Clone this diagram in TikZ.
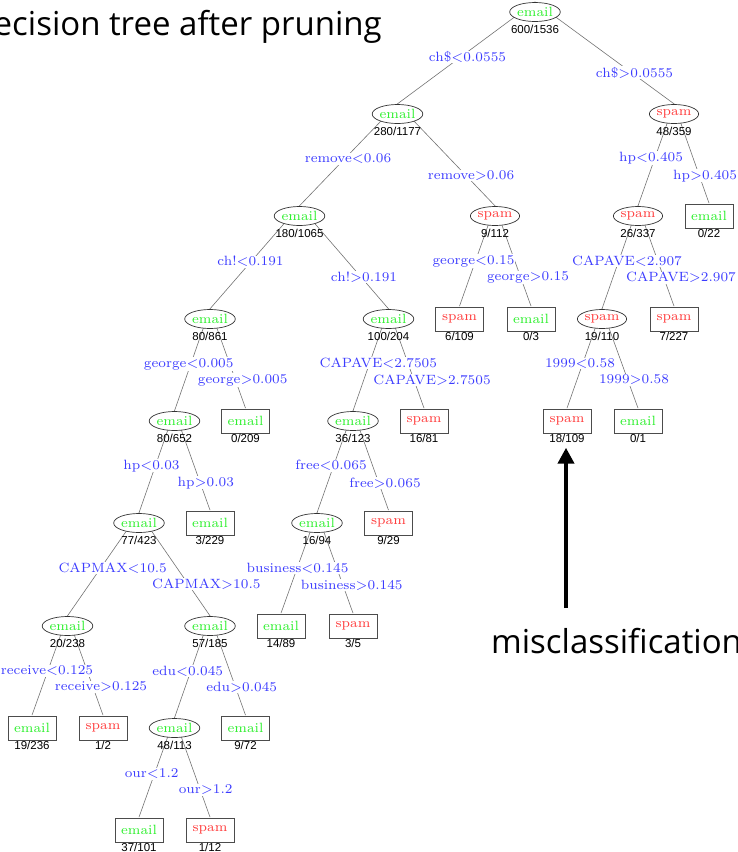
\documentclass[tikz,border=0pt]{standalone}
\usepackage{fontspec}
\newfontfamily\titlefont{Open Sans}
\newfontfamily\countfont{Liberation Sans}
\usetikzlibrary{positioning}
\usetikzlibrary{shapes.geometric}
\usetikzlibrary{arrows.meta}
\definecolor{splitblue}{RGB}{60,60,255}
\definecolor{mailgreen}{RGB}{45,240,45}
\definecolor{junkred}{RGB}{255,60,60}
\pgfdeclarelayer{bg}
\pgfsetlayers{bg,main}
\tikzset{cls/.style={font=\fontsize{7}{8}\selectfont, scale=1.92, inner sep=0pt, fill=white}}
\tikzset{inode/.style={cls, ellipse, draw=black!80, line width=0.7pt, minimum width=25pt, minimum height=9.9pt}}
\tikzset{leaf/.style={cls, rectangle, draw=black!70, line width=0.9pt, minimum width=25pt, minimum height=12.5pt}}
\tikzset{mail/.style={text=mailgreen}}
\tikzset{junk/.style={text=junkred}}
\tikzset{cnt/.style={font=\countfont\fontsize{11.5}{12}\selectfont, inner sep=0pt}}
\tikzset{cond/.style={font=\fontsize{7}{8}\selectfont, scale=1.92, text=splitblue, fill=white, inner sep=0.4pt}}
\tikzset{ed/.style={draw=black!55, line width=0.6pt}}
\tikzset{big/.style={font=\titlefont\fontsize{33}{37}\selectfont, inner sep=0pt}}
\tikzset{miss/.style={-{Triangle[width=16pt,length=16pt]}, line width=4pt}}

\begin{document}
\begin{tikzpicture}[x=1pt,y=-1pt]
\useasboundingbox (0,0) rectangle (738,852);

% tree nodes, level by level
\node[inode, mail] (n1) at (535,12) {email};
\node[inode, mail] (n2) at (397.5,114) {email};
\node[inode, junk] (n3) at (674,114) {spam};
\node[inode, mail] (n4) at (299.5,216) {email};
\node[inode, junk] (n5) at (495,216) {spam};
\node[inode, junk] (n6) at (638,216) {spam};
\node[leaf, mail] (n7) at (709,216) {email};
\node[inode, mail] (n8) at (210,319) {email};
\node[inode, mail] (n9) at (388.5,319) {email};
\node[leaf, junk] (n10) at (459.5,319) {spam};
\node[leaf, mail] (n11) at (531,319) {email};
\node[inode, junk] (n12) at (602,319) {spam};
\node[leaf, junk] (n13) at (674,319) {spam};
\node[inode, mail] (n14) at (174.5,421) {email};
\node[leaf, mail] (n15) at (245.5,421) {email};
\node[inode, mail] (n16) at (353,421) {email};
\node[leaf, junk] (n17) at (424,421) {spam};
\node[leaf, junk] (n18) at (567,421) {spam};
\node[leaf, mail] (n19) at (638,421) {email};
\node[inode, mail] (n20) at (139,523) {email};
\node[leaf, mail] (n21) at (210,523) {email};
\node[inode, mail] (n22) at (317,523) {email};
\node[leaf, junk] (n23) at (388.5,523) {spam};
\node[inode, mail] (n24) at (67.5,626) {email};
\node[inode, mail] (n25) at (210,626) {email};
\node[leaf, mail] (n26) at (281,626) {email};
\node[leaf, junk] (n27) at (353,626) {spam};
\node[leaf, mail] (n28) at (32,728) {email};
\node[leaf, junk] (n29) at (103,728) {spam};
\node[inode, mail] (n30) at (174.5,728) {email};
\node[leaf, mail] (n31) at (245.5,728) {email};
\node[leaf, mail] (n32) at (139,830) {email};
\node[leaf, junk] (n33) at (210,830) {spam};

% counts under the nodes
\node[cnt] (c1) [below=2.5pt of n1] {600/1536};
\node[cnt] (c2) [below=2.5pt of n2] {280/1177};
\node[cnt] (c3) [below=2.5pt of n3] {48/359};
\node[cnt] (c4) [below=2.5pt of n4] {180/1065};
\node[cnt] (c5) [below=2.5pt of n5] {9/112};
\node[cnt] (c6) [below=2.5pt of n6] {26/337};
\node[cnt] (c7) [below=0pt of n7] {0/22};
\node[cnt] (c8) [below=2.5pt of n8] {80/861};
\node[cnt] (c9) [below=2.5pt of n9] {100/204};
\node[cnt] (c10) [below=0pt of n10] {6/109};
\node[cnt] (c11) [below=0pt of n11] {0/3};
\node[cnt] (c12) [below=2.5pt of n12] {19/110};
\node[cnt] (c13) [below=0pt of n13] {7/227};
\node[cnt] (c14) [below=2.5pt of n14] {80/652};
\node[cnt] (c15) [below=0pt of n15] {0/209};
\node[cnt] (c16) [below=2.5pt of n16] {36/123};
\node[cnt] (c17) [below=0pt of n17] {16/81};
\node[cnt] (c18) [below=0pt of n18] {18/109};
\node[cnt] (c19) [below=0pt of n19] {0/1};
\node[cnt] (c20) [below=2.5pt of n20] {77/423};
\node[cnt] (c21) [below=0pt of n21] {3/229};
\node[cnt] (c22) [below=2.5pt of n22] {16/94};
\node[cnt] (c23) [below=0pt of n23] {9/29};
\node[cnt] (c24) [below=2.5pt of n24] {20/238};
\node[cnt] (c25) [below=2.5pt of n25] {57/185};
\node[cnt] (c26) [below=0pt of n26] {14/89};
\node[cnt] (c27) [below=0pt of n27] {3/5};
\node[cnt] (c28) [below=0pt of n28] {19/236};
\node[cnt] (c29) [below=0pt of n29] {1/2};
\node[cnt] (c30) [below=2.5pt of n30] {48/113};
\node[cnt] (c31) [below=0pt of n31] {9/72};
\node[cnt] (c32) [below=0pt of n32] {37/101};
\node[cnt] (c33) [below=0pt of n33] {1/12};

% branches go behind the nodes
\begin{pgfonlayer}{bg}
\draw[ed] (n1.north) -- (n2.north);
\draw[ed] (n1.north) -- (n3.north);
\draw[ed] (n2.north) -- (n4.north);
\draw[ed] (n2.north) -- (n5.north);
\draw[ed] (n3.north) -- (n6.north);
\draw[ed] (n3.north) -- (n7.north);
\draw[ed] (n4.north) -- (n8.north);
\draw[ed] (n4.north) -- (n9.north);
\draw[ed] (n5.north) -- (n10.north);
\draw[ed] (n5.north) -- (n11.north);
\draw[ed] (n6.north) -- (n12.north);
\draw[ed] (n6.north) -- (n13.north);
\draw[ed] (n8.north) -- (n14.north);
\draw[ed] (n8.north) -- (n15.north);
\draw[ed] (n9.north) -- (n16.north);
\draw[ed] (n9.north) -- (n17.north);
\draw[ed] (n12.north) -- (n18.north);
\draw[ed] (n12.north) -- (n19.north);
\draw[ed] (n14.north) -- (n20.north);
\draw[ed] (n14.north) -- (n21.north);
\draw[ed] (n16.north) -- (n22.north);
\draw[ed] (n16.north) -- (n23.north);
\draw[ed] (n20.north) -- (n24.north);
\draw[ed] (n20.north) -- (n25.north);
\draw[ed] (n22.north) -- (n26.north);
\draw[ed] (n22.north) -- (n27.north);
\draw[ed] (n24.north) -- (n28.north);
\draw[ed] (n24.north) -- (n29.north);
\draw[ed] (n25.north) -- (n30.north);
\draw[ed] (n25.north) -- (n31.north);
\draw[ed] (n30.north) -- (n32.north);
\draw[ed] (n30.north) -- (n33.north);
\end{pgfonlayer}

% split conditions
\node[cond] (s1) at (467.5,57) {ch\$<0.0555};
\node[cond] (s2) at (634.5,72.7) {ch\$>0.0555};
\node[cond] (s3) at (348,159) {remove<0.06};
\node[cond] (s4) at (471,175.7) {remove>0.06};
\node[cond] (s5) at (651,158) {hp<0.405};
\node[cond] (s6) at (705,175.7) {hp>0.405};
\node[cond] (s7) at (250.5,261.7) {ch!<0.191};
\node[cond] (s8) at (364,277.3) {ch!>0.191};
\node[cond] (s9) at (473.5,261) {george<0.15};
\node[cond] (s10) at (528,277.7) {george>0.15};
\node[cond] (s11) at (627,261) {CAPAVE<2.907};
\node[cond] (s12) at (681,277.7) {CAPAVE>2.907};
\node[cond] (s13) at (188.7,364) {george<0.005};
\node[cond] (s14) at (242.7,380) {george>0.005};
\node[cond] (s15) at (378.3,363.3) {CAPAVE<2.7505};
\node[cond] (s16) at (432,380) {CAPAVE>2.7505};
\node[cond] (s17) at (580,363.7) {1999<0.58};
\node[cond] (s18) at (634,380) {1999>0.58};
\node[cond] (s19) at (151.5,465.7) {hp<0.03};
\node[cond] (s20) at (205.8,482.7) {hp>0.03};
\node[cond] (s21) at (331,465.7) {free<0.065};
\node[cond] (s22) at (385,483) {free>0.065};
\node[cond] (s23) at (112.7,568.3) {CAPMAX<10.5};
\node[cond] (s24) at (206.3,584.3) {CAPMAX>10.5};
\node[cond] (s25) at (297.5,568.3) {business<0.145};
\node[cond] (s26) at (351.7,585) {business>0.145};
\node[cond] (s27) at (47,671) {receive<0.125};
\node[cond] (s28) at (101,687) {receive>0.125};
\node[cond] (s29) at (187.7,671) {edu<0.045};
\node[cond] (s30) at (241.7,687) {edu>0.045};
\node[cond] (s31) at (151.7,774) {our<1.2};
\node[cond] (s32) at (205.7,790) {our>1.2};

% annotations
\node[big, anchor=base east] (title) at (382,35) {Decision tree after pruning};
\node[big, anchor=base west] (mis) at (491,653) {misclassification};
\coordinate (tail) at (566,608);
\draw[miss, shorten >=5pt] (tail) -- (tail |- c18.south);
\end{tikzpicture}
\end{document}
